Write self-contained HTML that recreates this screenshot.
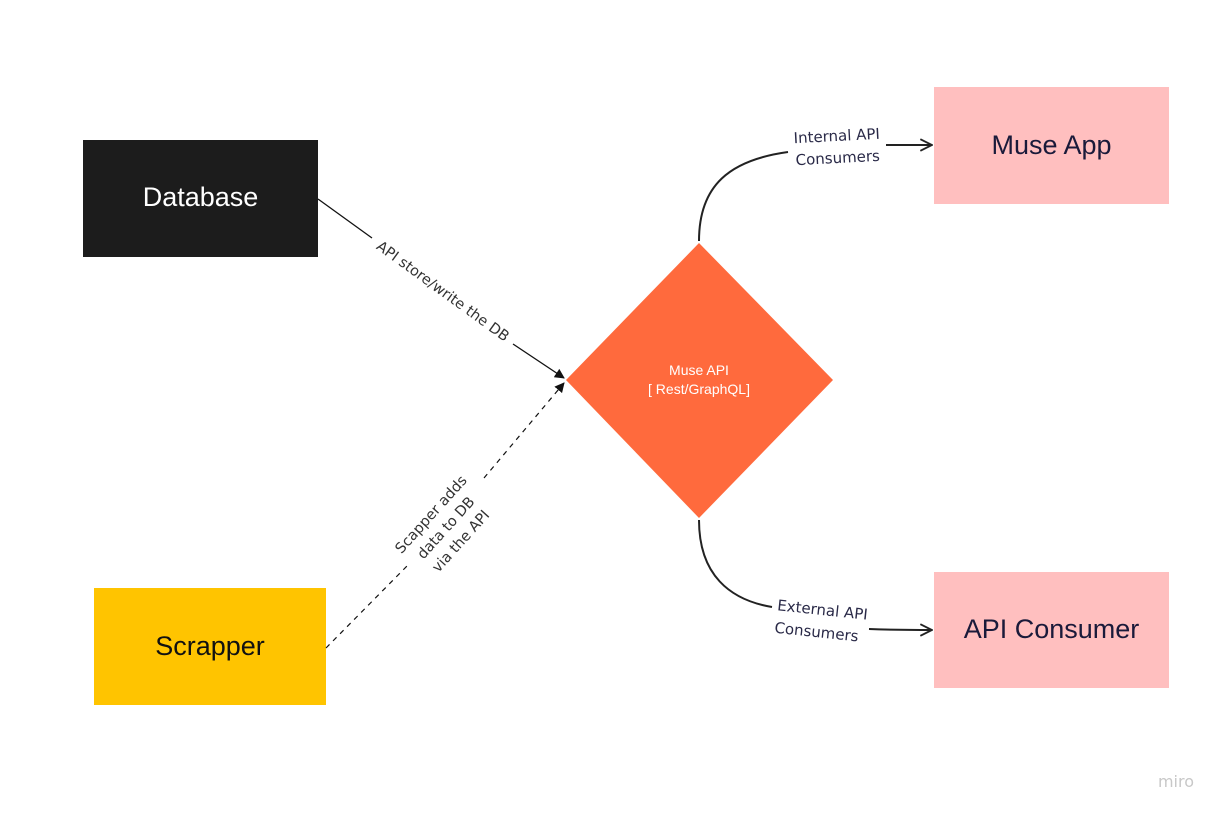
<!DOCTYPE html>
<html><head><meta charset="utf-8"><style>
html,body{margin:0;padding:0;background:#fff;width:1224px;height:816px;overflow:hidden}
svg{display:block}
</style></head><body>
<svg width="1224" height="816" viewBox="0 0 1224 816" xmlns="http://www.w3.org/2000/svg">
<defs>
<marker id="ah" viewBox="0 0 10 10" refX="9" refY="5" markerWidth="10" markerHeight="10" orient="auto" markerUnits="userSpaceOnUse"><path d="M0,0 L10,5 L0,10 z" fill="#111"/></marker>
<marker id="oa" viewBox="0 0 12 12" refX="11" refY="6" markerWidth="14" markerHeight="14" orient="auto" markerUnits="userSpaceOnUse"><path d="M1,1 L11,6 L1,11" fill="none" stroke="#222" stroke-width="1.6"/></marker>
</defs>
<rect width="1224" height="816" fill="#fff"/>
<rect x="83" y="140" width="235" height="117" fill="#1c1c1c"/>
<text x="200.5" y="206" font-family="Liberation Sans, sans-serif" font-size="27" fill="#fff" text-anchor="middle">Database</text>
<rect x="94" y="588" width="232" height="117" fill="#ffc400"/>
<text x="210" y="655" font-family="Liberation Sans, sans-serif" font-size="27" fill="#111" text-anchor="middle">Scrapper</text>
<rect x="934" y="87" width="235" height="117" fill="#ffbfbf"/>
<text x="1051.5" y="154" font-family="Liberation Sans, sans-serif" font-size="27" fill="#1a1a3a" text-anchor="middle">Muse App</text>
<rect x="934" y="572" width="235" height="116" fill="#ffbfbf"/>
<text x="1051.5" y="638" font-family="Liberation Sans, sans-serif" font-size="27" fill="#1a1a3a" text-anchor="middle">API Consumer</text>
<polygon points="699,243 833,380 699,518 566,380" fill="#ff6a3d"/>
<text x="699" y="375" font-family="Liberation Sans, sans-serif" font-size="14" fill="#fff" text-anchor="middle">Muse API</text>
<text x="699" y="394" font-family="Liberation Sans, sans-serif" font-size="14" fill="#fff" text-anchor="middle">[ Rest/GraphQL]</text>
<!-- DB line -->
<line x1="318" y1="199" x2="372" y2="238" stroke="#111" stroke-width="1.3"/>
<line x1="513" y1="344" x2="564" y2="378" stroke="#111" stroke-width="1.3" marker-end="url(#ah)"/>
<text transform="translate(443,291) rotate(36)" font-family="DejaVu Sans, sans-serif" font-size="14.5" fill="#333" text-anchor="middle" dy="5">API store/write the DB</text>
<!-- scrapper line -->
<line x1="326" y1="648" x2="408" y2="565" stroke="#111" stroke-width="1.2" stroke-dasharray="5,5"/>
<line x1="484" y1="478" x2="564" y2="383" stroke="#111" stroke-width="1.2" stroke-dasharray="5,5" marker-end="url(#ah)"/>
<g transform="translate(445,527) rotate(-48)" font-family="DejaVu Sans, sans-serif" font-size="14.5" fill="#333" text-anchor="middle">
<text x="0" y="-14">Scapper adds</text>
<text x="0" y="6">data to DB</text>
<text x="0" y="26">via the API</text>
</g>
<!-- curves -->
<path d="M699,241 C699,185 730,160 788,152" fill="none" stroke="#222" stroke-width="2"/>
<line x1="886" y1="145" x2="932" y2="145" stroke="#222" stroke-width="2" marker-end="url(#oa)"/>
<g font-family="DejaVu Sans, sans-serif" font-size="15" fill="#2a2a48" text-anchor="middle">
<text x="837" y="141" transform="rotate(-3 837 141)">Internal API</text>
<text x="838" y="163" transform="rotate(-3 838 163)">Consumers</text>
<text x="822" y="615" transform="rotate(6 822 615)">External API</text>
<text x="816" y="637" transform="rotate(6 816 637)">Consumers</text>
</g>
<path d="M699,520 C699,575 730,600 772,607" fill="none" stroke="#222" stroke-width="2"/>
<path d="M869,629 C895,630 915,630 932,630" fill="none" stroke="#222" stroke-width="2" marker-end="url(#oa)"/>
<text x="1176" y="787" font-family="DejaVu Sans, sans-serif" font-size="16" fill="#c8c8c8" text-anchor="middle">miro</text>
</svg>
</body></html>
